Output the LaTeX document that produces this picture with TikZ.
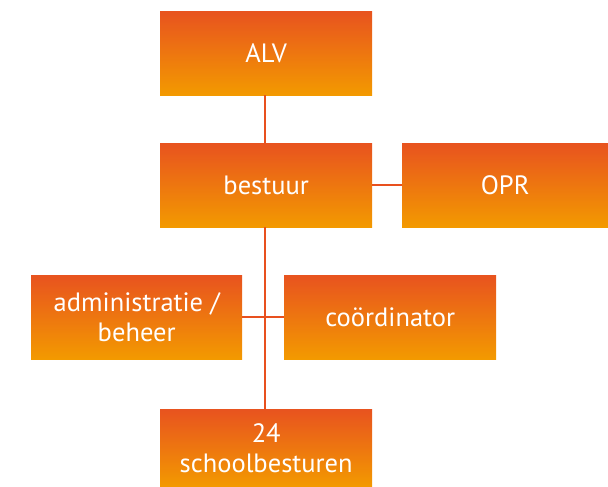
\documentclass[tikz,border=0pt]{standalone}
\usepackage{fontspec}
\setmainfont{PT Sans}
\definecolor{otop}{HTML}{E8531F}
\definecolor{obot}{HTML}{F39A00}
\definecolor{oline}{HTML}{E8501E}
\begin{document}
\begin{tikzpicture}[x=1pt,y=-1pt,
  obox/.style={rectangle, top color=otop, bottom color=obot, draw=none,
    inner sep=0pt, text=white, font=\fontsize{26.5}{30}\selectfont, align=center, anchor=north west},
  conn/.style={draw=oline, line width=2pt}]
\useasboundingbox (0,0) rectangle (608,487);
\node[obox, minimum width=212pt, minimum height=84pt] (alv) at (160,11) {ALV};
\node[obox, minimum width=212pt, minimum height=84pt] (best) at (160,143) {bestuur};
\node[obox, minimum width=206pt, minimum height=84pt] (opr) at (402,143) {OPR};
\node[obox, minimum width=211pt, minimum height=84pt] (adm) at (31,275) {administratie /\\beheer};
\node[obox, minimum width=212pt, minimum height=84pt] (coo) at (284,275) {coördinator};
\node[obox, minimum width=212pt, minimum height=78pt] (sch) at (160,409) {24\\schoolbesturen};
\draw[conn] ([xshift=-1pt]alv.south) -- ([xshift=-1pt]best.north);
\draw[conn] (best.east) -- (opr.west);
\draw[conn] ([xshift=-1pt]best.south) -- ([xshift=-1pt]sch.north);
\draw[conn] (adm.east) -- (coo.west);
\end{tikzpicture}
\end{document}
